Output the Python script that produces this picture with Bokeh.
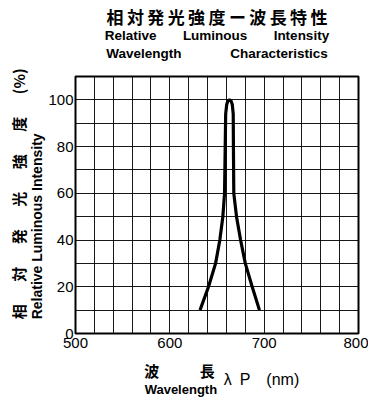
from bokeh.plotting import figure
from bokeh.models import Range1d, FixedTicker, LinearAxis
from bokeh.embed import file_html
from bokeh.resources import INLINE

# ---- data ----
wavelength = [632, 641, 648.5, 653, 656.2, 658, 658.7, 659.2, 660.3, 661.6, 663.2,
              664.8, 666.2, 667.2, 667.4, 667.8, 670.7, 675, 680, 687.3, 695]
rel_intensity = [10, 20, 30, 40, 50, 60, 80, 94, 98, 99.6, 100,
                 99.6, 98, 94, 80, 60, 50, 40, 30, 20, 10]
x_ticks = [500, 600, 700, 800]
y_ticks = [0, 20, 40, 60, 80, 100]
x_grid = list(range(500, 801, 20))
y_grid = list(range(0, 111, 10))

JP = "Noto Sans CJK JP"
EN = "Liberation Sans"
NB = "\u00a0"
IS = "\u3000"   # ideographic space
EN_SP = "\u2002"
TH = "\u2009"

p = figure(width=368, height=400, output_backend="svg", toolbar_location=None,
           x_range=Range1d(500, 800), y_range=Range1d(0, 110),
           min_border_left=75, min_border_right=10, min_border_top=75,
           min_border_bottom=67, title=None)
p.background_fill_color = "white"
p.border_fill_color = "white"
p.outline_line_color = "black"
p.outline_line_width = 2
p.outline_line_alpha = 1

p.xgrid.ticker = FixedTicker(ticks=x_grid)
p.ygrid.ticker = FixedTicker(ticks=y_grid)
for g in (p.xgrid, p.ygrid):
    g.grid_line_color = "black"
    g.grid_line_width = 1
    g.grid_line_alpha = 0.9

xa = p.below[0]
ya = p.left[0]
xa.ticker = FixedTicker(ticks=x_ticks)
ya.ticker = FixedTicker(ticks=y_ticks)
for ax in (xa, ya):
    ax.axis_line_color = None
    ax.major_tick_line_color = None
    ax.minor_tick_line_color = None
    ax.major_tick_out = 0
    ax.major_tick_in = 0
    ax.major_label_text_font = EN
    ax.major_label_text_font_size = "15px"
    ax.major_label_text_color = "black"
    ax.axis_label_text_color = "black"
    ax.axis_label_text_font_style = "bold"
xa.major_label_standoff = 4
ya.major_label_standoff = 2

p.line(wavelength, rel_intensity, line_color="black", line_width=3.2)


def blank_axis(label, font, size, style, standoff):
    return LinearAxis(ticker=FixedTicker(ticks=[]), axis_line_color=None,
                      major_tick_line_color=None, minor_tick_line_color=None,
                      major_tick_out=0, major_tick_in=0, major_label_standoff=0,
                      axis_label=label, axis_label_text_font=font,
                      axis_label_text_font_size=size, axis_label_text_font_style=style,
                      axis_label_text_color="black", axis_label_standoff=standoff)


# ---- title lines (stacked outward from the frame) ----
p.add_layout(blank_axis("Wavelength" + NB * 13 + "Characteristics", EN, "13.5px", "bold", 16), "above")
p.add_layout(blank_axis("Relative" + NB * 7 + "Luminous" + NB * 7 + "Intensity", EN, "13.5px", "bold", 0), "above")
p.add_layout(blank_axis(TH.join("相対発光強度ー波長特性"), JP, "17px", "bold", -4), "above")

# ---- y axis labels ----
ya.axis_label = "Relative Luminous Intensity" + NB * 11
ya.axis_label_text_font = EN
ya.axis_label_text_font_size = "14px"
ya.axis_label_standoff = 0

sep = IS + EN_SP
jp_y = IS + EN_SP + sep.join(["相", "対", "発", "光", "強", "度", "(%)"])
p.add_layout(blank_axis(jp_y, JP, "15px", "bold", -2), "left")

# ---- x axis labels ----
xa.axis_label = "波" + IS + IS + EN_SP + TH + "長" + IS * 5
xa.axis_label_text_font = JP
xa.axis_label_text_font_size = "15px"
xa.axis_label_standoff = 9

p.add_layout(blank_axis(NB * 20 + "λ" + EN_SP + "P" + "\u2003" + "(nm)", EN, "16px", "normal", -13), "below")
p.add_layout(blank_axis("Wavelength" + NB * 20, EN, "13px", "bold", -9), "below")

open("out.html", "w").write(file_html(p, INLINE))
